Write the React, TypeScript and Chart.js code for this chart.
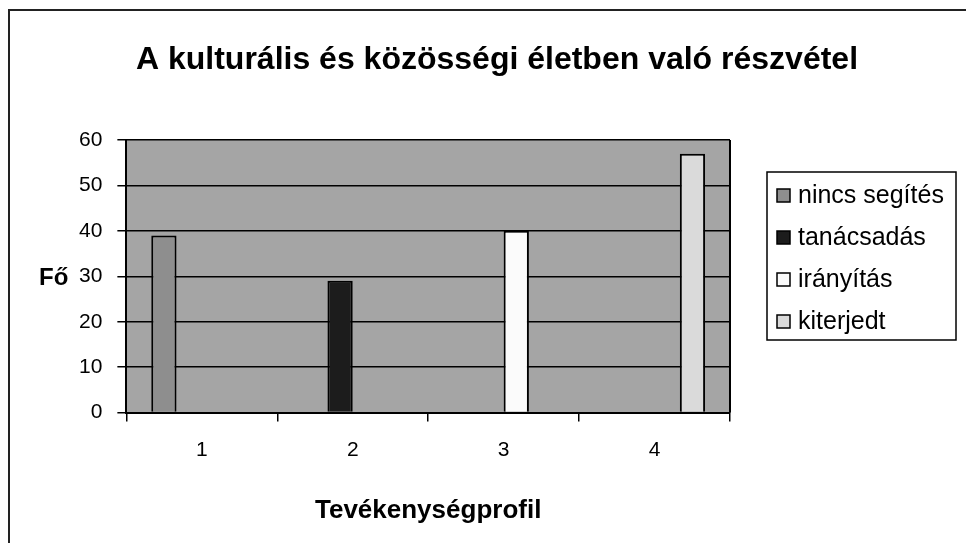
import React, { useEffect, useRef } from 'react';
import { Chart, registerables } from 'chart.js';

Chart.register(...registerables);

const chartTitle = 'A kulturális és közösségi életben való részvétel';
const xAxisTitle = 'Tevékenységprofil';
const yAxisTitle = 'Fő';
const categories = ['1', '2', '3', '4'];
const seriesNames = ['nincs segítés', 'tanácsadás', 'irányítás', 'kiterjedt'];
const ninсsSegites = [39, null, null, null];
const tanacsadas = [null, 29, null, null];
const iranyitas = [null, null, 40, null];
const kiterjedt = [null, null, null, 57];
const seriesColors = ['#8e8e8e', '#1c1c1c', '#fbfbfb', '#dadada'];
const yMax = 60;
const yStep = 10;

const FONT = '"Liberation Sans", Arial, sans-serif';

const decorPlugin = {
  id: 'decor',
  beforeDraw(chart: any) {
    const { ctx, chartArea: a } = chart;
    ctx.save();
    ctx.fillStyle = '#ffffff';
    ctx.fillRect(0, 0, chart.width, chart.height);
    ctx.fillStyle = '#a5a5a5';
    ctx.fillRect(a.left, a.top, a.right - a.left, a.bottom - a.top);
    ctx.restore();
  },
  afterDraw(chart: any) {
    const { ctx, chartArea: a } = chart;
    ctx.save();
    // outer frame (left + top)
    ctx.strokeStyle = '#222';
    ctx.lineWidth = 2;
    ctx.beginPath();
    ctx.moveTo(9, chart.height);
    ctx.lineTo(9, 10);
    ctx.lineTo(chart.width, 10);
    ctx.stroke();
    // plot right border
    ctx.strokeStyle = '#000';
    ctx.lineWidth = 2;
    ctx.beginPath();
    ctx.moveTo(a.right, a.top);
    ctx.lineTo(a.right, a.bottom);
    ctx.stroke();
    // chart title
    ctx.fillStyle = '#000';
    ctx.font = `bold 32px ${FONT}`;
    ctx.textAlign = 'center';
    ctx.textBaseline = 'middle';
    ctx.fillText(chartTitle, 497, 60);
    // y axis title (horizontal)
    ctx.font = `bold 24px ${FONT}`;
    ctx.textAlign = 'right';
    ctx.fillText(yAxisTitle, a.left - 58, (a.top + a.bottom) / 2 + 2);
    // legend
    const lx = 767, ly = 172, lw = 189, lh = 168;
    ctx.fillStyle = '#fff';
    ctx.fillRect(lx, ly, lw, lh);
    ctx.strokeStyle = '#000';
    ctx.lineWidth = 1.5;
    ctx.strokeRect(lx, ly, lw, lh);
    ctx.font = `25px ${FONT}`;
    ctx.textAlign = 'left';
    chart.data.datasets.forEach((ds: any, i: number) => {
      const cy = ly + 23 + i * 42;
      ctx.fillStyle = ds.backgroundColor;
      ctx.fillRect(777, cy - 6, 13, 13);
      ctx.strokeStyle = '#000';
      ctx.lineWidth = 1.5;
      ctx.strokeRect(777, cy - 6, 13, 13);
      ctx.fillStyle = '#000';
      ctx.fillText(ds.label, 798, cy + 1);
    });
    ctx.restore();
  },
};

export default function App() {
  const ref = useRef<HTMLCanvasElement | null>(null);
  useEffect(() => {
    document.body.style.margin = '0';
    const series = [ninсsSegites, tanacsadas, iranyitas, kiterjedt];
    const chart = new Chart(ref.current as HTMLCanvasElement, {
      type: 'bar',
      data: {
        labels: categories,
        datasets: series.map((d, i) => ({
          label: seriesNames[i],
          data: d,
          backgroundColor: seriesColors[i],
          borderColor: '#000',
          borderWidth: 2,
          categoryPercentage: 0.67,
          barPercentage: 1.0,
        })),
      },
      options: {
        animation: false,
        responsive: false,
        maintainAspectRatio: false,
        layout: { padding: { left: 64, right: 236, top: 140, bottom: 17 } },
        plugins: {
          legend: { display: false },
          tooltip: { enabled: false },
          title: { display: false },
        },
        scales: {
          x: {
            offset: true,
            grid: { offset: true, drawOnChartArea: false, drawTicks: true, tickLength: 9, color: '#000', lineWidth: 1.5 },
            border: { display: true, color: '#000', width: 2 },
            ticks: { color: '#000', font: { family: FONT, size: 21 }, padding: 16 },
            title: {
              display: true,
              text: xAxisTitle,
              color: '#000',
              font: { family: FONT, size: 26, weight: 'bold' },
              padding: { top: 16, bottom: 0 },
            },
          },
          y: {
            min: 0,
            max: yMax,
            grid: { color: '#000', lineWidth: 1.5, tickLength: 9 },
            border: { display: true, color: '#000', width: 2 },
            ticks: { stepSize: yStep, color: '#000', font: { family: FONT, size: 21 }, padding: 15 },
          },
        },
      },
      plugins: [decorPlugin],
    });
    return () => chart.destroy();
  }, []);
  return (
    <div style={{ width: 966, height: 543 }}>
      <canvas ref={ref} width={966} height={543} style={{ display: 'block' }} />
    </div>
  );
}
